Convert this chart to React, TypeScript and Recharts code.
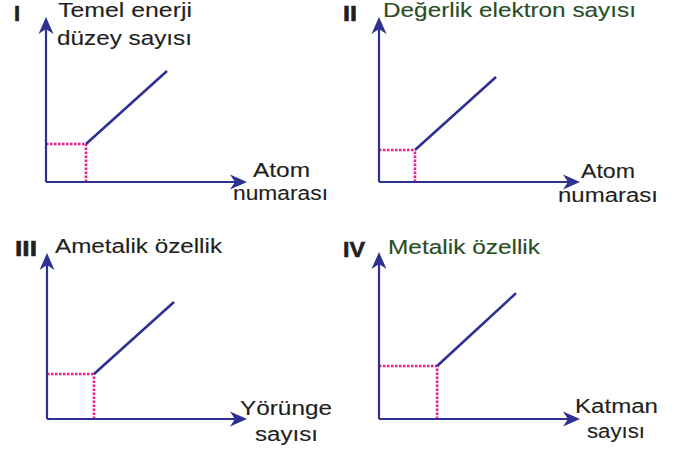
import React from "react";
import { LineChart, Line, XAxis, YAxis, ReferenceLine, Customized } from "recharts";

const W = 688;
const H = 452;

// values (axes run 0..10 in every panel)
const numerals = ["I", "II", "III", "IV"];
const seriesI = [{ x: 1.99, y: 2.3 }, { x: 6.02, y: 6.73 }];
const seriesII = [{ x: 1.79, y: 1.94 }, { x: 5.82, y: 6.36 }];
const seriesIII = [{ x: 2.35, y: 2.71 }, { x: 6.35, y: 7.05 }];
const seriesIV = [{ x: 2.89, y: 3.17 }, { x: 6.82, y: 7.54 }];
const series = [seriesI, seriesII, seriesIII, seriesIV];
const yTitles = [
  ["Temel enerji", "düzey sayısı"],
  ["Değerlik elektron sayısı"],
  ["Ametalik özellik"],
  ["Metalik özellik"],
];
const xTitles = [
  ["Atom", "numarası"],
  ["Atom", "numarası"],
  ["Yörünge", "sayısı"],
  ["Katman", "sayısı"],
];
const domain: [number, number] = [0, 10];

// layout: plot frame of each panel in page pixels
const frames = [
  { ox: 46, oy: 182, tx: 247, ty: 17 },
  { ox: 379, oy: 182, tx: 580, ty: 17 },
  { ox: 47, oy: 419, tx: 247, ty: 253 },
  { ox: 379, oy: 419, tx: 580, ty: 252 },
];
// text placement: [x, baseline, width]
const textPos = [
  { num: [14, 21, 0], y: [[58, 17, 134], [57, 45, 135]], x: [[253, 177, 57], [233, 200, 95]], green: false },
  { num: [343, 21, 14], y: [[383, 17, 253]], x: [[581, 178, 54], [558, 202, 100]], green: true },
  { num: [15, 256, 22], y: [[55, 253, 167]], x: [[240, 415, 92], [255, 441, 63]], green: false },
  { num: [343, 257, 22], y: [[388, 254, 152]], x: [[575, 413, 83], [587, 438, 58]], green: true },
];

const BLUE = "#2e3192";
const PINK = "#ec1c8c";
const INK = "#231f20";
const GREEN = "#2a4d24";
const FONT = "'Liberation Sans', Arial, Helvetica, sans-serif";

function ArrowAxis(props: any) {
  const { x1, y1, x2, y2 } = props;
  const len = Math.hypot(x2 - x1, y2 - y1) || 1;
  const dx = (x2 - x1) / len;
  const dy = (y2 - y1) / len;
  const nx = -dy;
  const ny = dx;
  const head = 17;
  const half = 7.5;
  const notch = 12;
  const bx = x2 - dx * head;
  const by = y2 - dy * head;
  const kx = x2 - dx * notch;
  const ky = y2 - dy * notch;
  return (
    <g>
      <line x1={x1} y1={y1} x2={kx} y2={ky} stroke={BLUE} strokeWidth={2.2} />
      <polygon
        points={`${x2},${y2} ${bx + nx * half},${by + ny * half} ${kx},${ky} ${bx - nx * half},${by - ny * half}`}
        fill={BLUE}
      />
    </g>
  );
}

function Texts({ i }: { i: number }) {
  const t = textPos[i];
  const titleColor = t.green ? GREEN : INK;
  return (
    <g fontFamily={FONT}>
      <text
        x={t.num[0]}
        y={t.num[1]}
        fontSize={22}
        fontWeight="bold"
        fill={INK}
        stroke={INK}
        strokeWidth={0.6}
        {...(t.num[2] ? { textLength: t.num[2], lengthAdjust: "spacingAndGlyphs" } : {})}
      >
        {numerals[i]}
      </text>
      {yTitles[i].map((s, k) => (
        <text key={"y" + k} x={t.y[k][0]} y={t.y[k][1]} fontSize={20} fill={titleColor}
          stroke={titleColor} strokeWidth={0.12}
          textLength={t.y[k][2]} lengthAdjust="spacingAndGlyphs">
          {s}
        </text>
      ))}
      {xTitles[i].map((s, k) => (
        <text key={"x" + k} x={t.x[k][0]} y={t.x[k][1]} fontSize={20} fill={INK}
          stroke={INK} strokeWidth={0.12}
          textLength={t.x[k][2]} lengthAdjust="spacingAndGlyphs">
          {s}
        </text>
      ))}
    </g>
  );
}

function Panel({ i }: { i: number }) {
  const f = frames[i];
  const data = series[i];
  const start = data[0];
  return (
    <div style={{ position: "absolute", left: 0, top: 0 }}>
      <LineChart
        width={W}
        height={H}
        margin={{ left: f.ox, top: f.ty, right: W - f.tx, bottom: H - f.oy }}
      >
        <XAxis type="number" dataKey="x" domain={domain} hide allowDataOverflow />
        <YAxis type="number" dataKey="y" domain={domain} hide allowDataOverflow />
        <ReferenceLine
          segment={[{ x: 0, y: start.y }, { x: start.x, y: start.y }]}
          stroke={PINK}
          strokeWidth={2.6}
          strokeDasharray="2.5 1.5"
          ifOverflow="visible"
        />
        <ReferenceLine
          segment={[{ x: start.x, y: 0 }, { x: start.x, y: start.y }]}
          stroke={PINK}
          strokeWidth={2.6}
          strokeDasharray="2.5 1.5"
          ifOverflow="visible"
        />
        <ReferenceLine
          segment={[{ x: 0, y: 0 }, { x: 10, y: 0 }]}
          ifOverflow="visible"
          shape={ArrowAxis}
        />
        <ReferenceLine
          segment={[{ x: 0, y: 0 }, { x: 0, y: 10 }]}
          ifOverflow="visible"
          shape={ArrowAxis}
        />
        <Line
          data={data}
          dataKey="y"
          stroke={BLUE}
          strokeWidth={2.6}
          dot={false}
          activeDot={false}
          isAnimationActive={false}
        />
        <Customized component={() => <Texts i={i} />} />
      </LineChart>
    </div>
  );
}

export default function App() {
  return (
    <div style={{ position: "absolute", left: 0, top: 0, width: W, height: H, background: "#fff" }}>
      {numerals.map((_, i) => (
        <Panel key={i} i={i} />
      ))}
    </div>
  );
}
